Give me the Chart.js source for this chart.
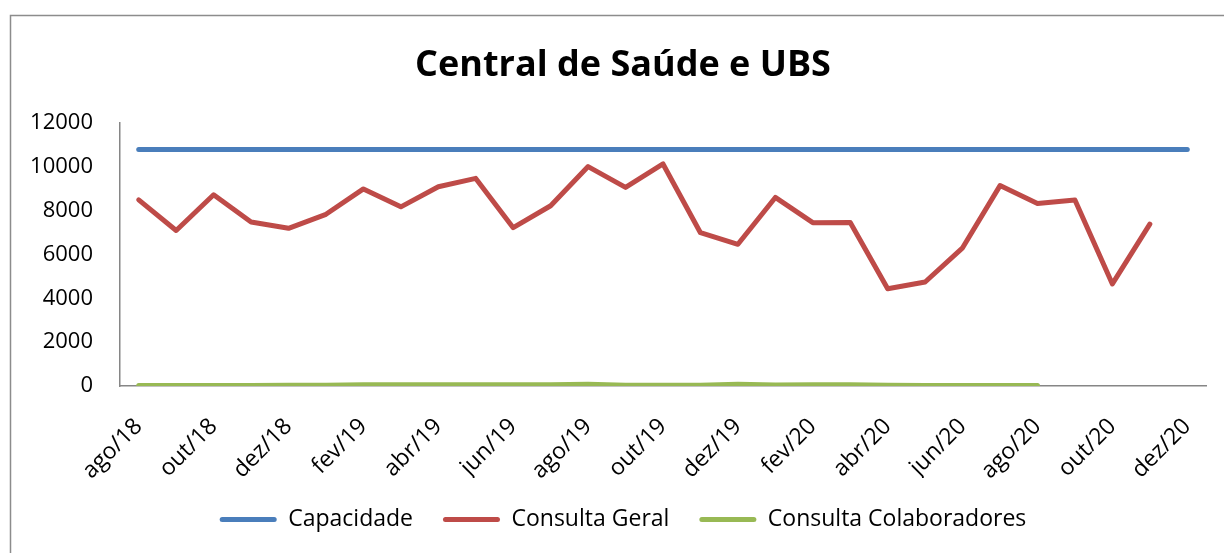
<!DOCTYPE html>
<html>
<head>
<meta charset="utf-8">
<script src="https://cdn.jsdelivr.net/npm/chart.js@4"></script>
<style>
  html, body { margin: 0; padding: 0; background: #fff; }
  #wrap { position: absolute; left: 0; top: 0; width: 1224px; height: 553px; }
</style>
</head>
<body>
<div id="wrap"><canvas id="chart"></canvas></div>
<script>
const meses = ["ago/18","set/18","out/18","nov/18","dez/18","jan/19","fev/19","mar/19","abr/19","mai/19","jun/19","jul/19",
  "ago/19","set/19","out/19","nov/19","dez/19","jan/20","fev/20","mar/20","abr/20","mai/20","jun/20","jul/20",
  "ago/20","set/20","out/20","nov/20","dez/20"];

const capacidade = [10800,10800,10800,10800,10800,10800,10800,10800,10800,10800,10800,10800,10800,10800,10800,
  10800,10800,10800,10800,10800,10800,10800,10800,10800,10800,10800,10800,10800,10800];

const consultaGeral = [8500,7100,8730,7490,7200,7840,9000,8180,9100,9480,7230,8230,
  10020,9070,10140,7000,6470,8610,7460,7470,4440,4750,6310,9150,8330,8490,4660,7390];

const consultaColab = [20,20,20,20,30,30,60,60,60,60,60,60,80,30,30,30,80,40,60,60,30,20,20,20,20];

const yTicks = [0, 2000, 4000, 6000, 8000, 10000, 12000];

const fontName = "'Open Sans', 'Liberation Sans', sans-serif";

// moldura cinza da área do gráfico (como no Excel)
// e deslocamento do título/legenda, centrados um pouco à direita no original
const moldura = {
  id: "moldura",
  afterLayout(chart) {
    const dx = 20;
    if (chart.titleBlock) { chart.titleBlock.left += dx; chart.titleBlock.right += dx; }
    if (chart.legend) { chart.legend.left += dx; chart.legend.right += dx; }
  },
  beforeDraw(chart) {
    const c = chart.ctx;
    c.save();
    c.fillStyle = "#fff";
    c.fillRect(0, 0, chart.width, chart.height);
    c.strokeStyle = "#8c8c8c";
    c.lineWidth = 1.5;
    c.strokeRect(10.5, 15.5, 1400, 700);
    c.restore();
  }
};

function linha(label, data, cor) {
  return {
    label: label,
    data: data,
    borderColor: cor,
    backgroundColor: cor,
    borderWidth: 5,
    borderCapStyle: "round",
    borderJoinStyle: "round",
    pointRadius: 0,
    tension: 0,
    fill: false
  };
}

const ctx = document.getElementById("chart").getContext("2d");

new Chart(ctx, {
  type: "line",
  data: {
    labels: meses,
    datasets: [
      linha("Capacidade", capacidade, "#4a7ebb"),
      linha("Consulta Geral", consultaGeral, "#be4b48"),
      linha("Consulta Colaboradores", consultaColab, "#98b954")
    ]
  },
  options: {
    responsive: true,
    maintainAspectRatio: false,
    animation: false,
    layout: { padding: { left: 0, right: 18, top: 0, bottom: 12 } },
    plugins: {
      title: {
        display: true,
        text: "Central de Saúde e UBS",
        color: "#000",
        font: { family: fontName, size: 36, weight: "bold" },
        padding: { top: 44, bottom: 36 }
      },
      legend: {
        position: "bottom",
        labels: {
          color: "#000",
          font: { family: fontName, size: 23 },
          boxWidth: 57,
          boxHeight: 5,
          padding: 30,
          useBorderRadius: true,
          borderRadius: 2.5,
          generateLabels(chart) {
            return Chart.defaults.plugins.legend.labels.generateLabels(chart).map(l => {
              l.lineWidth = 0;
              return l;
            });
          }
        }
      },
      tooltip: { enabled: false }
    },
    scales: {
      x: {
        offset: true,
        grid: { display: false, drawTicks: false },
        border: { color: "#868686", width: 1.5 },
        ticks: {
          autoSkip: false,
          maxRotation: 45,
          minRotation: 45,
          padding: 27,
          color: "#000",
          font: { family: fontName, size: 23 },
          callback: function (v, i) { return i % 2 === 0 ? meses[i] : ""; }
        },
        afterFit(scale) {
          scale.height = 92;
          scale.paddingLeft = 0;
          scale.paddingRight = 0;
        }
      },
      y: {
        min: 0,
        max: 12000,
        grid: { display: false, drawTicks: false },
        border: { color: "#868686", width: 1.5 },
        afterBuildTicks(scale) { scale.ticks = yTicks.map(v => ({ value: v })); },
        ticks: {
          padding: 27,
          color: "#000",
          font: { family: fontName, size: 22 },
          callback: v => String(v)
        },
        afterFit(scale) { scale.width = 120; }
      }
    }
  },
  plugins: [moldura]
});
</script>
</body>
</html>
